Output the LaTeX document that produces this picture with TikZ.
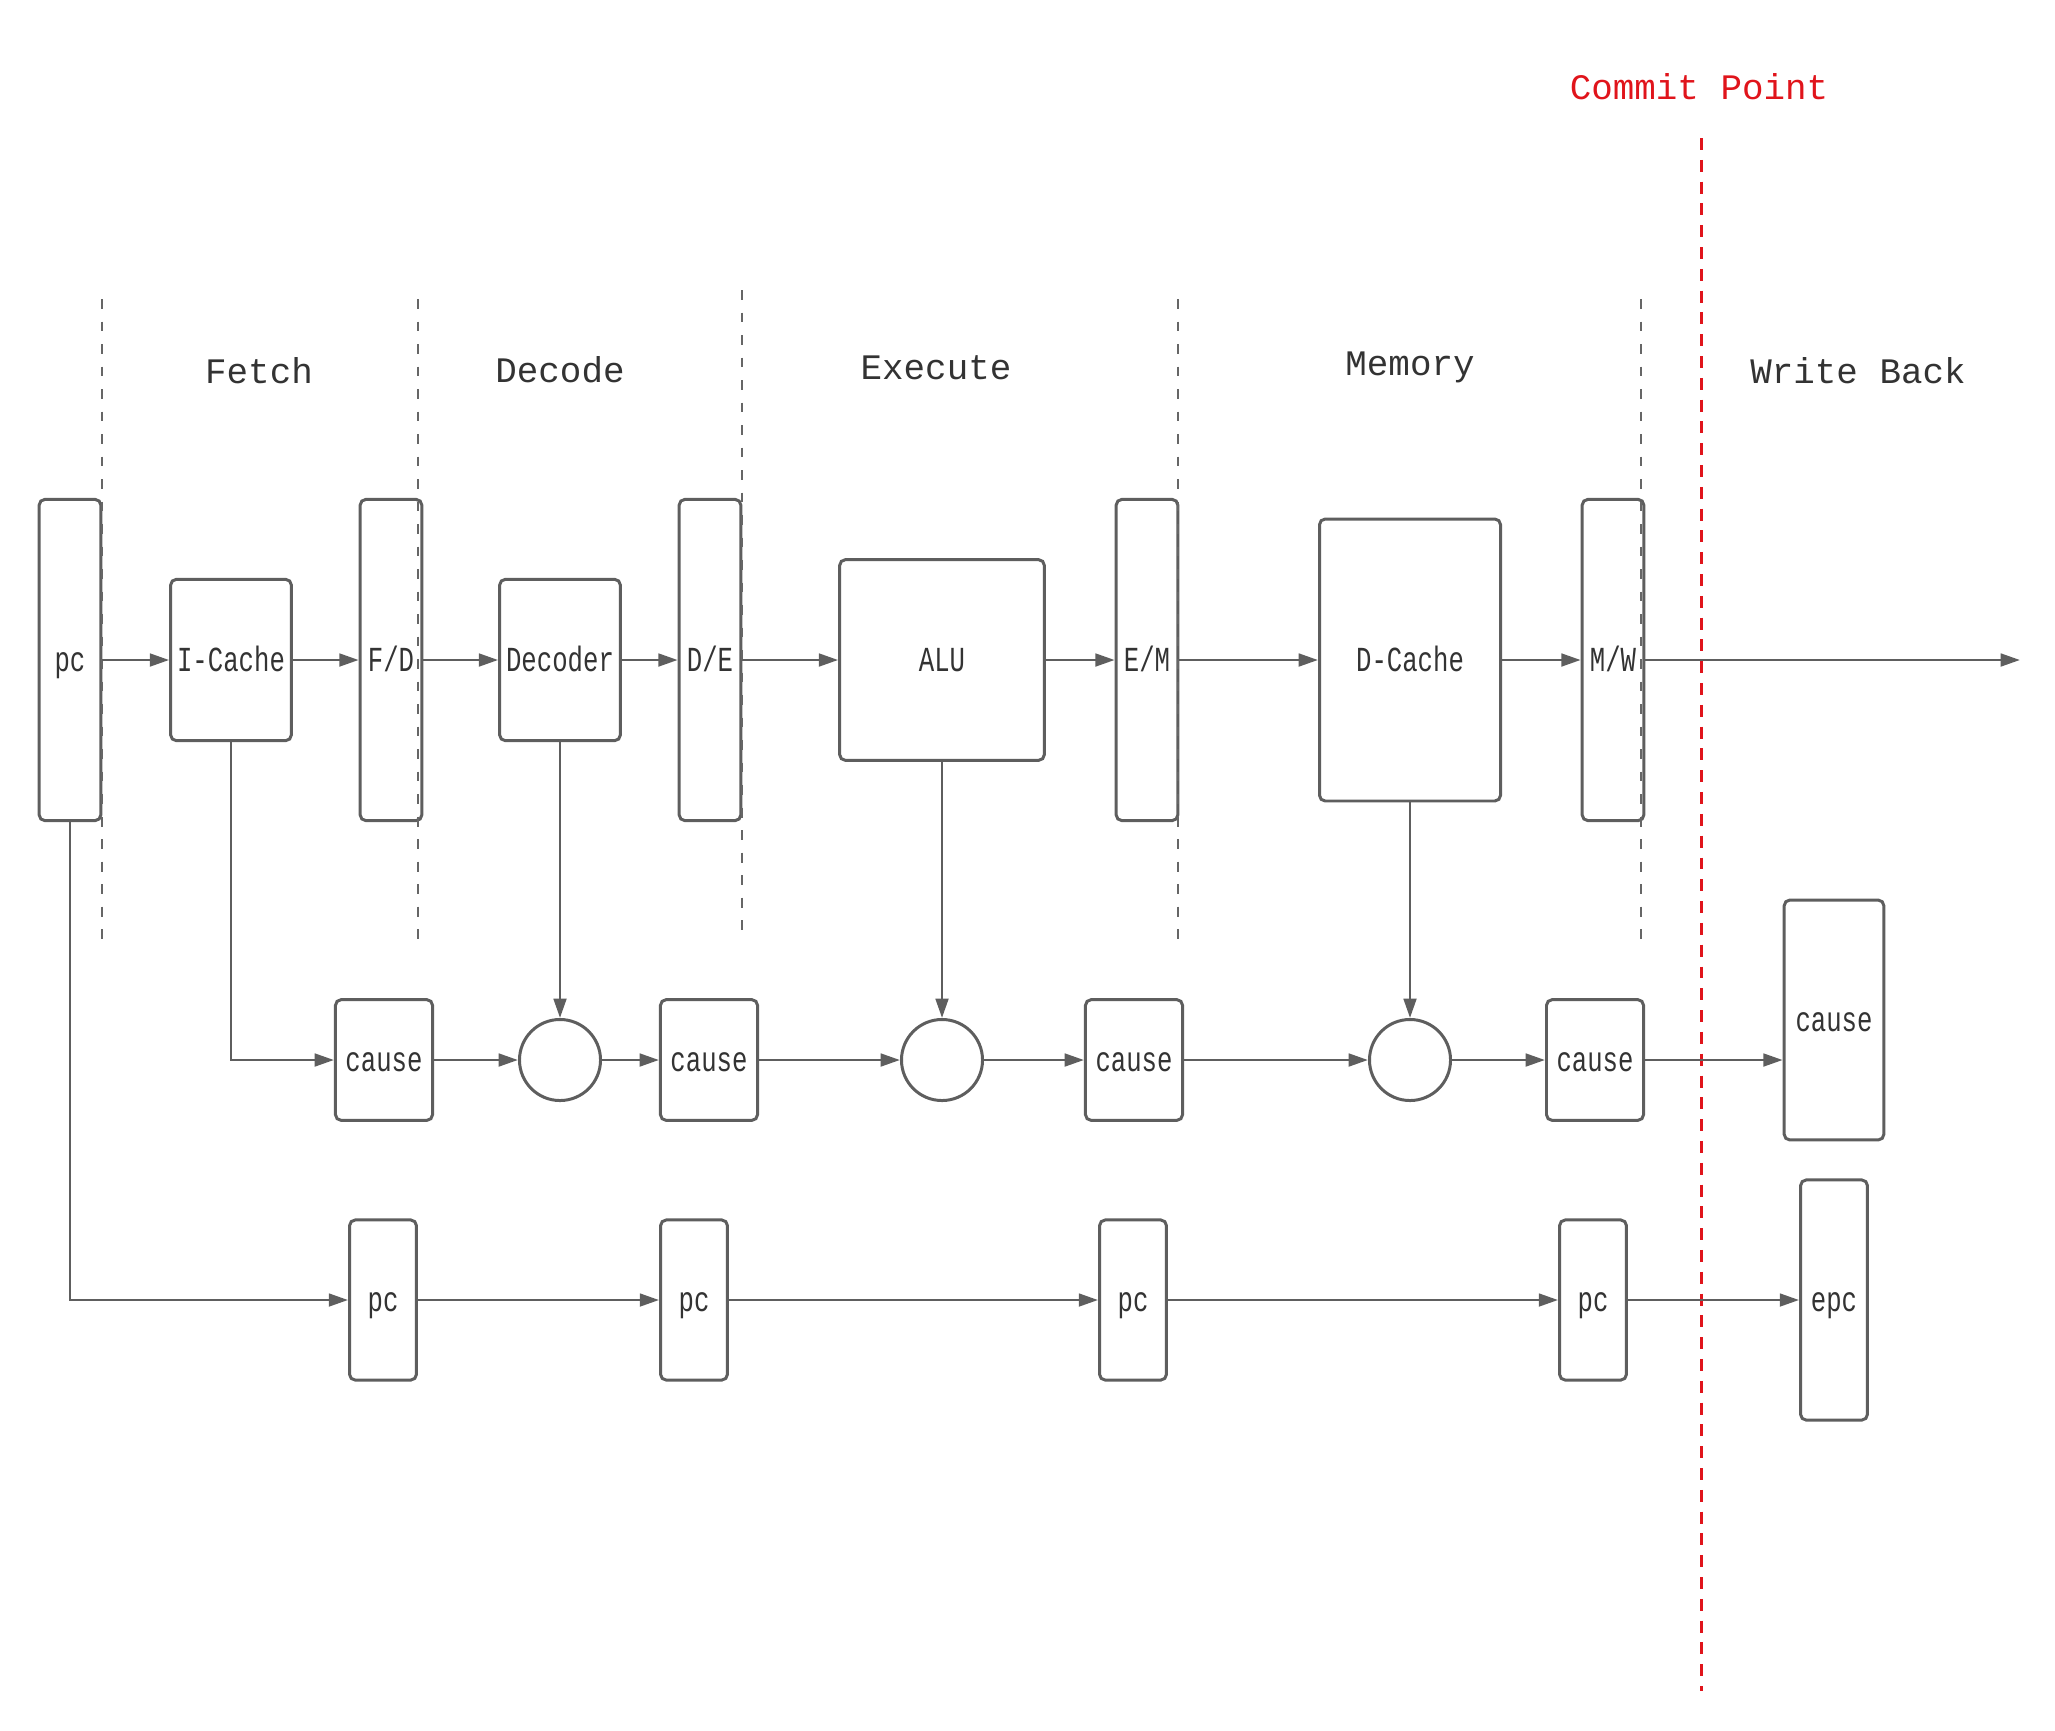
\documentclass[tikz,border=0pt]{standalone}
\usepackage{fontspec}
\setmonofont{Liberation Mono}
\newfontfamily\boxfont[FakeStretch=0.73]{Liberation Mono}
\usetikzlibrary{
  arrows.meta,
  positioning,
  shapes.geometric
}
\definecolor{WireGray}{HTML}{5E5E5E}
\definecolor{InkGray}{HTML}{333333}
\definecolor{CommitRed}{HTML}{E0141B}
\tikzset{
  % Rounded block: base for every box
  blk/.style={
    rectangle, rounded corners=1.6pt,
    draw=WireGray, line width=0.85pt, fill=white,
    inner sep=0pt, text=InkGray,
    text height=0.66em, text depth=0pt,
    font=\boxfont\fontsize{10}{12}\selectfont
  },
  % Tall pipeline register
  pipereg/.style={blk, minimum width=0.616cm, minimum height=3.21cm},
  % Cache / decoder unit
  unitbox/.style={blk, minimum width=1.206cm, minimum height=1.612cm},
  % Exception cause latch
  causebox/.style={blk, minimum width=0.97cm, minimum height=1.206cm},
  % Exception pc latch
  pcbox/.style={blk, minimum width=0.668cm, minimum height=1.6cm},
  % Merge point
  mergept/.style={
    circle, draw=WireGray, line width=0.85pt, fill=white,
    minimum size=0.81cm, inner sep=0pt
  },
  % Arrow
  wire/.style={
    -{Triangle[length=5.5pt,width=3.6pt]},
    draw=WireGray, line width=0.8pt
  },
  % Stage boundary
  stagesep/.style={draw=WireGray!95, line width=0.75pt, dash pattern=on 2.8pt off 3.6pt},
  % Commit boundary
  commitsep/.style={draw=CommitRed, line width=0.85pt, dash pattern=on 3.4pt off 2.8pt},
  % Stage title
  stagelbl/.style={font=\ttfamily\fontsize{10.2}{12}\selectfont, text=InkGray}
}

\begin{document}
\begin{tikzpicture}[x=0.01cm, y=-0.01cm]
  \useasboundingbox (0,0) rectangle (2055,1730);

  % Stage titles
  \node[stagelbl] (tfetch)  at (259,371)  {Fetch};
  \node[stagelbl] (tdecode) at (560,370)  {Decode};
  \node[stagelbl] (texec)   at (936,368)  {Execute};
  \node[stagelbl] (tmem)    at (1410,367) {Memory};
  \node[stagelbl] (twb)     at (1858,371) {Write Back};
  \node[stagelbl, text=CommitRed] (tcommit) at (1699,87) {Commit Point};

  % Top row: datapath
  \node[pipereg] (pc)  at (70,660)   {pc};
  \node[unitbox] (ic)  at (231,660)  {I-Cache};
  \node[pipereg] (fd)  at (391,660)  {F/D};
  \node[unitbox] (dec) at (560,660)  {Decoder};
  \node[pipereg] (de)  at (710,660)  {D/E};
  \node[blk, minimum width=2.045cm, minimum height=2.005cm] (alu) at (942,660) {ALU};
  \node[pipereg] (em)  at (1147,660) {E/M};
  \node[blk, minimum width=1.809cm, minimum height=2.818cm] (dc) at (1410,660) {D-Cache};
  \node[pipereg] (mw)  at (1613,660) {M/W};
  \coordinate (out) at (2020,660);

  % Middle row: cause chain
  \node[causebox] (cs1) at (384,1060)  {cause};
  \node[mergept]  (mg1) at (560,1060)  {};
  \node[causebox] (cs2) at (709,1060)  {cause};
  \node[mergept]  (mg2) at (942,1060)  {};
  \node[causebox] (cs3) at (1134,1060) {cause};
  \node[mergept]  (mg3) at (1410,1060) {};
  \node[causebox] (cs4) at (1595,1060) {cause};
  \node[blk, minimum width=0.996cm, minimum height=2.398cm] (cs5) at (1834,1020) {cause};

  % Bottom row: pc chain
  \node[pcbox] (pc1) at (383,1300)  {pc};
  \node[pcbox] (pc2) at (694,1300)  {pc};
  \node[pcbox] (pc3) at (1133,1300) {pc};
  \node[pcbox] (pc4) at (1593,1300) {pc};
  \node[blk, minimum width=0.668cm, minimum height=2.4cm] (epc) at (1834,1300) {epc};

  % Stage boundaries
  \foreach \sx/\sa/\sb in {102/299/941, 418/299/941, 742/290/931, 1178/299/941, 1641/299/941}
    \draw[stagesep] (\sx,\sa) -- (\sx,\sb);
  \draw[commitsep] (1701,138) -- (1701,1691);

  % Datapath arrows
  \draw[wire] (pc)  -- (ic);
  \draw[wire] (ic)  -- (fd);
  \draw[wire] (fd)  -- (dec);
  \draw[wire] (dec) -- (de);
  \draw[wire] (de)  -- (alu);
  \draw[wire] (alu) -- (em);
  \draw[wire] (em)  -- (dc);
  \draw[wire] (dc)  -- (mw);
  \draw[wire] (mw)  -- (out);

  % Cause arrows
  \draw[wire] (ic.south)  |- (cs1.west);
  \draw[wire] (dec.south) -- (mg1.north);
  \draw[wire] (alu.south) -- (mg2.north);
  \draw[wire] (dc.south)  -- (mg3.north);
  \draw[wire] (cs1) -- (mg1);
  \draw[wire] (mg1) -- (cs2);
  \draw[wire] (cs2) -- (mg2);
  \draw[wire] (mg2) -- (cs3);
  \draw[wire] (cs3) -- (mg3);
  \draw[wire] (mg3) -- (cs4);
  \draw[wire] (cs4) -- (cs4 -| cs5.west);

  % pc arrows
  \draw[wire] (pc.south) |- (pc1.west);
  \draw[wire] (pc1) -- (pc2);
  \draw[wire] (pc2) -- (pc3);
  \draw[wire] (pc3) -- (pc4);
  \draw[wire] (pc4) -- (epc);

\end{tikzpicture}
\end{document}
